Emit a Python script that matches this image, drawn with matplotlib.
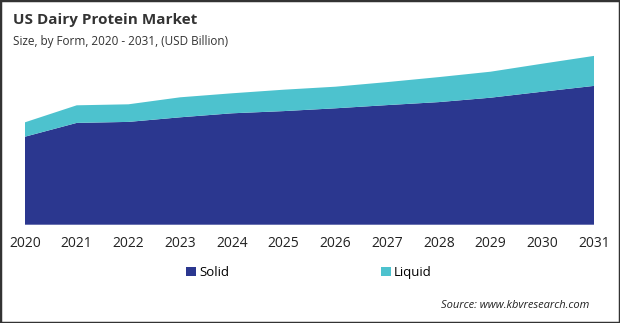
import matplotlib.pyplot as plt
from matplotlib.patches import Rectangle

plt.rcParams['font.family'] = ['Open Sans', 'DejaVu Sans']

# data (USD Billion, approximate)
years = [2020, 2021, 2022, 2023, 2024, 2025, 2026, 2027, 2028, 2029, 2030, 2031]
solid = [4.40, 5.09, 5.14, 5.37, 5.57, 5.68, 5.82, 5.98, 6.13, 6.35, 6.65, 6.94]
liquid = [0.72, 0.88, 0.88, 1.00, 1.00, 1.07, 1.08, 1.15, 1.25, 1.30, 1.40, 1.50]
series_names = ['Solid', 'Liquid']
colors = ['#2B378F', '#4DC2CE']

fig = plt.figure(figsize=(6.2, 3.23), dpi=100)
ax = fig.add_axes([25 / 620, 1 - 224.7 / 323, 569 / 620, 184 / 323])

ax.stackplot(years, solid, liquid, colors=colors, labels=series_names, linewidth=0)
ax.set_xlim(years[0], years[-1])
ax.set_ylim(0, 9.2)
ax.set_yticks([])
ax.set_xticks(years)
ax.set_xticklabels([str(y) for y in years], fontsize=10, color='#222222')
ax.tick_params(axis='x', length=0, pad=8)
for s in ax.spines.values():
    s.set_visible(False)

# title and subtitle
fig.text(13 / 620, 1 - 20 / 323, 'US Dairy Protein Market', fontsize=11, fontweight='bold',
         color='#333333', va='center', ha='left')
fig.text(13 / 620, 1 - 41 / 323, 'Size, by Form, 2020 - 2031, (USD Billion)', fontsize=8.5,
         color='#333333', va='center', ha='left')

# legend
leg = fig.legend(loc='center', bbox_to_anchor=(309 / 620, 1 - 272.5 / 323), ncol=2,
                 frameon=False, fontsize=9.5, handlelength=0.75, handleheight=0.75,
                 handletextpad=0.25, columnspacing=11.5)

fig.text(589 / 620, 1 - 305 / 323, 'Source: www.kbvresearch.com', fontsize=8,
         style='italic', color='#222222', ha='right', va='center')

# outer border
fig.patches.append(Rectangle((0, 0), 1, 1, transform=fig.transFigure, fill=False,
                             edgecolor='#333333', linewidth=2.5))

fig.savefig('out.png', dpi=100)
